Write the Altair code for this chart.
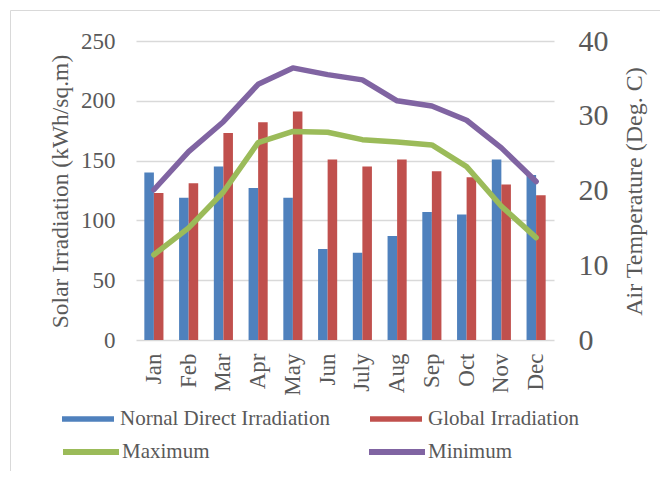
import altair as alt
import pandas as pd

months = ["Jan", "Feb", "Mar", "Apr", "May", "Jun", "July", "Aug", "Sep", "Oct", "Nov", "Dec"]
normal_direct = [140, 119, 145, 127, 119, 76, 73, 87, 107, 105, 151, 138]
global_irr = [123, 131, 173, 182, 191, 151, 145, 151, 141, 136, 130, 121]
t_maximum = [11.4, 15.0, 19.8, 26.4, 27.9, 27.8, 26.8, 26.5, 26.1, 23.2, 17.9, 13.7]
t_minimum = [20.1, 25.2, 29.2, 34.2, 36.4, 35.5, 34.8, 32.0, 31.3, 29.4, 25.7, 21.2]

bar_names = ["Nornal Direct Irradiation", "Global Irradiation"]
line_names = ["Maximum", "Minimum"]

FONT = "'Liberation Serif', 'Times New Roman', Tinos, serif"
TXT = "#595959"
GRID = "#d9d9d9"

bar_df = pd.DataFrame({
    "month": months * 2,
    "series": [bar_names[0]] * 12 + [bar_names[1]] * 12,
    "value": normal_direct + global_irr,
})
line_df = pd.DataFrame({
    "month": months * 2,
    "idx": list(range(12)) * 2,
    "series": [line_names[0]] * 12 + [line_names[1]] * 12,
    "temp": t_maximum + t_minimum,
})

x_axis = alt.Axis(labelAngle=-90, labelFontSize=23, labelColor=TXT, labelFont=FONT,
                  labelPadding=13, domain=False, ticks=False, grid=False, title=None)

frame = alt.Chart(pd.DataFrame({"a": [0]})).mark_rect(
    fill="transparent", stroke=GRID, strokeWidth=1
).encode(
    x=alt.value(-125.5), x2=alt.value(700), y=alt.value(-30.5), y2=alt.value(500)
)

bars = alt.Chart(bar_df).mark_bar().encode(
    x=alt.X(
        "month:N", sort=months, title=None,
        scale=alt.Scale(paddingInner=0.45, paddingOuter=0.24),
        axis=x_axis,
    ),
    xOffset=alt.XOffset("series:N", sort=bar_names,
                        scale=alt.Scale(domain=bar_names, paddingInner=0, paddingOuter=0)),
    y=alt.Y(
        "value:Q", scale=alt.Scale(domain=[0, 250]),
        axis=alt.Axis(orient="left", values=[0, 50, 100, 150, 200, 250], grid=True,
                      gridColor=GRID, gridWidth=1.5, domain=False, ticks=False,
                      labelFontSize=23, labelColor=TXT, labelPadding=21, labelFont=FONT,
                      title="Solar Irradiation (kWh/sq.m)", titleFontSize=23.5,
                      titleColor=TXT, titleFontWeight="normal", titleFont=FONT,
                      titleX=-76, titleY=150, titleAngle=270,
                      titleAlign="center", titleBaseline="middle"),
    ),
    color=alt.Color(
        "series:N",
        scale=alt.Scale(domain=bar_names, range=["#4F81BD", "#C0504D"]),
        legend=alt.Legend(title=None, orient="none", legendX=-74, legendY=352,
                          direction="horizontal", symbolType="M-1,-0.11H1V0.11H-1Z",
                          symbolSize=2704, symbolStrokeWidth=0, labelOffset=6,
                          columnPadding=40, labelFontSize=21, labelColor=TXT,
                          labelFont=FONT, labelLimit=400, padding=0),
    ),
)

lines = alt.Chart(line_df).mark_line(
    strokeWidth=5.5, strokeCap="round", strokeJoin="round"
).encode(
    x=alt.X("month:N", sort=months, title=None, axis=x_axis),
    y=alt.Y(
        "temp:Q", scale=alt.Scale(domain=[0, 40]),
        axis=alt.Axis(orient="right", values=[0, 10, 20, 30, 40], grid=False,
                      domain=False, ticks=False, labelFontSize=30, labelColor=TXT,
                      labelPadding=24, labelFont=FONT, title="Air Temperature (Deg. C)",
                      titleFontSize=24, titleColor=TXT, titleFontWeight="normal",
                      titleFont=FONT,
                      titleX=80, titleY=150, titleAngle=270,
                      titleAlign="center", titleBaseline="middle"),
    ),
    color=alt.Color(
        "series:N",
        scale=alt.Scale(domain=line_names, range=["#9BBB59", "#8064A2"]),
        legend=alt.Legend(title=None, orient="none", legendX=-76, legendY=380,
                          direction="horizontal", symbolType="stroke",
                          symbolSize=3136, symbolStrokeWidth=6, labelOffset=0,
                          columnPadding=147, labelFontSize=21, labelColor=TXT,
                          labelFont=FONT, labelLimit=400, padding=0),
    ),
    order=alt.Order("idx:Q"),
)

chart = alt.layer(frame, bars, lines).resolve_scale(
    y="independent", color="independent"
).properties(
    width=418, height=299,
    autosize=alt.AutoSizeParams(type="none"),
    padding={"left": 128, "top": 33, "right": 106, "bottom": 131},
    background="white",
).configure_view(
    stroke="transparent"
).configure_axis(
    labelFont=FONT, titleFont=FONT
).configure_legend(
    labelFont=FONT
)

chart.save("out.html", embed_options={"renderer": "svg", "actions": False})
